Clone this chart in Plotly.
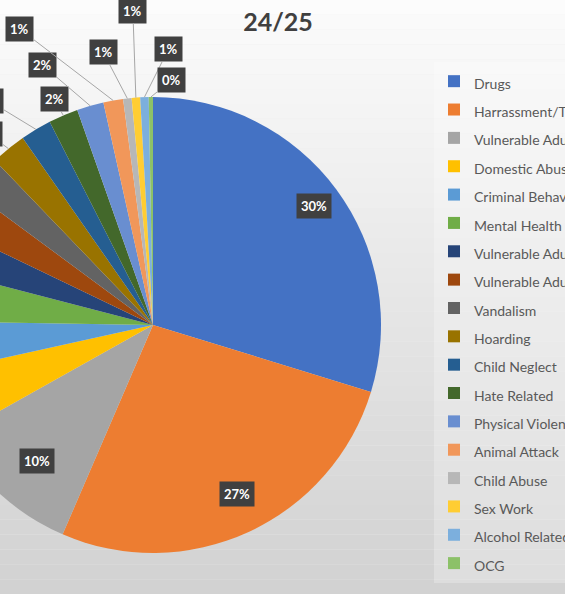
import math
import plotly.graph_objects as go

# ── Data (share of incidents, %) ─────────────────────────────────────────────
CATEGORIES = [
    "Drugs", "Harrassment/Threats", "Vulnerable Adult - Self Neglect",
    "Domestic Abuse", "Criminal Behaviour", "Mental Health Issues",
    "Vulnerable Adult - Exploitation", "Vulnerable Adult - Financial Abuse",
    "Vandalism", "Hoarding", "Child Neglect", "Hate Related",
    "Physical Violence", "Animal Attack", "Child Abuse", "Sex Work",
    "Alcohol Related", "OCG",
]
VALUES = [29.8, 26.8, 10.4, 4.7, 3.7, 3.8, 3.1, 3.0, 2.7, 2.5, 2.2, 2.1,
          1.9, 1.4, 0.6, 0.6, 0.6, 0.3]
TITLE = "24/25"

# ── Office palette ───────────────────────────────────────────────────────────
COLORS = [
    "#4472C4", "#ED7D31", "#A5A5A5", "#FFC000", "#5B9BD5", "#70AD47",
    "#264478", "#9E480E", "#636363", "#997300", "#255E91", "#43682B",
    "#698ED0", "#F1975A", "#B7B7B7", "#FFCD33", "#7CAFDD", "#8CC168",
]

# ── Canvas: the figure is wider than the window and shifted left so the
#    pie is cut at the left edge like the source screenshot ─────────────────
SHIFT = 100
W, H = 800, 594
CX, CY, R = 153 + SHIFT, 325, 228   # pie centre / radius in px

# offsets (px) of the outside callouts relative to the slice rim
LABEL_OFFSETS = {
    "OCG": (21, -17), "Alcohol Related": (24, -48), "Sex Work": (-3, -87),
    "Child Abuse": (-24, -46), "Animal Attack": (-94, -72),
    "Physical Violence": (-48, -41), "Hate Related": (-9, -16),
    "Child Neglect": (-46, -28), "Hoarding": (-20, -15),
}

fig = go.Figure(go.Pie(
    labels=CATEGORIES,
    values=VALUES,
    sort=False,
    direction="clockwise",
    rotation=0,
    textinfo="none",
    hoverinfo="label+percent",
    marker=dict(colors=COLORS, line=dict(width=0)),
    domain=dict(x=[(CX - R) / W, (CX + R) / W], y=[1 - (CY + R) / H, 1 - (CY - R) / H]),
))

# legend labels: small visible text, larger legend font for Excel-like spacing
fig.data[0].labels = [f'<span style="font-size:14px">{c}</span>' for c in CATEGORIES]

# ── Data labels ─────────────────────────────────────────────────────────────
total = sum(VALUES)
annotations = []
cum = 0.0
big = sorted(VALUES, reverse=True)[:3]
for cat, val in zip(CATEGORIES, VALUES):
    mid = (cum + val / 2) / total * 2 * math.pi
    cum += val
    txt = f"{round(val / total * 100):.0f}%"
    box = dict(bgcolor="#404040", borderpad=4,
               font=dict(family="Lato, sans-serif", size=13, color="white", weight="bold"))
    if val in big:
        px, py = CX + 0.88 * R * math.sin(mid), CY - 0.88 * R * math.cos(mid)
        annotations.append(dict(x=px / W, y=1 - py / H, xref="paper", yref="paper",
                                text=f"<b>{txt}</b>", showarrow=False, **box))
    else:
        px, py = CX + R * math.sin(mid), CY - R * math.cos(mid)
        ax, ay = LABEL_OFFSETS.get(cat, (-60, 0))
        annotations.append(dict(x=px / W, y=1 - py / H, xref="paper", yref="paper",
                                text=f"<b>{txt}</b>", showarrow=True, ax=ax, ay=ay,
                                arrowhead=0, arrowwidth=1, arrowcolor="#a6a6a6",
                                standoff=0, **box))

# ── Background gradient (white at top → light grey at bottom) ───────────────
shapes = []
N = 40
for i in range(N):
    t = i / (N - 1)
    g = int(252 - t * 42)
    shapes.append(dict(type="rect", xref="paper", yref="paper", layer="below",
                       x0=0, x1=1, y0=1 - (i + 1) / N, y1=1 - i / N,
                       line=dict(width=0), fillcolor=f"rgb({g},{g},{g})"))

fig.update_layout(
    width=W, height=H,
    margin=dict(l=0, r=0, t=0, b=0),
    paper_bgcolor="#ececec", plot_bgcolor="#ececec",
    font=dict(family="Lato, sans-serif", color="#595959"),
    title=dict(text=f"<b>{TITLE}</b>", x=(278 + SHIFT) / W, xanchor="center", xref="paper",
               y=1 - 22 / H, yanchor="middle",
               font=dict(family="Lato, sans-serif", size=25, color="#404040")),
    showlegend=True,
    legend=dict(x=(434 + SHIFT) / W, xanchor="left", y=1 - 62 / H, yanchor="top",
                bgcolor="rgba(255,255,255,0.25)", borderwidth=0,
                font=dict(family="Lato, sans-serif", size=19.5, color="#595959"),
                itemclick=False),
    annotations=annotations,
    shapes=shapes,
)

POST = """
document.body.style.margin = '0';
document.body.style.overflow = 'hidden';
var gd = document.getElementById('{plot_id}');
gd.style.marginLeft = '-%dpx';
""" % SHIFT

fig.write_html("out.html", post_script=POST)
